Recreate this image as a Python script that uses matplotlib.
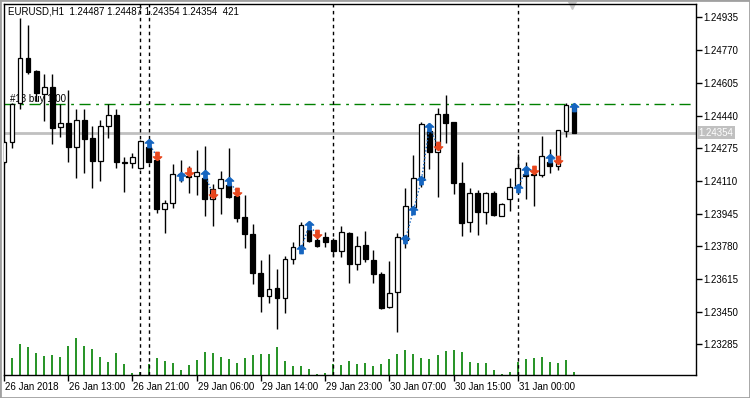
import matplotlib
matplotlib.use('Agg')
import matplotlib.pyplot as plt
import matplotlib.transforms as mtransforms
from matplotlib.patches import Rectangle
from matplotlib.path import Path

plt.rcParams['font.family'] = ['Liberation Sans', 'DejaVu Sans']

# Barras H1 del EURUSD (una por hora, indice 0 = primera visible)
opens = [1.24205, 1.24305, 1.24502, 1.24729, 1.24666, 1.24547, 1.24582, 1.24380,
         1.24401, 1.24283, 1.24417, 1.24325, 1.24212, 1.24387, 1.24441, 1.24202,
         1.24199, 1.24174, 1.24281, 1.24215, 1.23967, 1.23997, 1.24140, 1.24136,
         1.24135, 1.24123, 1.24017, 1.24073, 1.24088, 1.24034, 1.23928, 1.23841,
         1.23647, 1.23531, 1.23568, 1.23518, 1.23714, 1.23778, 1.23862, 1.23812,
         1.23827, 1.23812, 1.23758, 1.23849, 1.23689, 1.23785, 1.23709, 1.23640,
         1.23472, 1.23548, 1.23812, 1.23980, 1.24115, 1.24362, 1.24257, 1.24448,
         1.24406, 1.24098, 1.23901, 1.24047, 1.23952, 1.24047, 1.23934, 1.24017,
         1.24084, 1.24143, 1.24143, 1.24140, 1.24204, 1.24187, 1.24363, 1.24487]
highs = [1.24316, 1.24502, 1.24930, 1.24897, 1.24670, 1.24648, 1.24648, 1.24498,
         1.24569, 1.24473, 1.24473, 1.24387, 1.24417, 1.24498, 1.24473, 1.24229,
         1.24252, 1.24316, 1.24301, 1.24231, 1.24014, 1.24195, 1.24215, 1.24185,
         1.24266, 1.24286, 1.24094, 1.24160, 1.24274, 1.24073, 1.24039, 1.23892,
         1.23711, 1.23741, 1.23665, 1.23733, 1.23800, 1.23901, 1.23901, 1.23828,
         1.23854, 1.23822, 1.23882, 1.23852, 1.23832, 1.23857, 1.23761, 1.23652,
         1.23706, 1.23846, 1.24076, 1.24241, 1.24406, 1.24402, 1.24478, 1.24543,
         1.24407, 1.24204, 1.24073, 1.24064, 1.24053, 1.24059, 1.23997, 1.24126,
         1.24246, 1.24207, 1.24180, 1.24337, 1.24271, 1.24367, 1.24502, 1.24487]
lows = [1.24195, 1.24276, 1.24473, 1.24649, 1.24513, 1.24414, 1.24295, 1.24333,
        1.24204, 1.24126, 1.24148, 1.24073, 1.24109, 1.24325, 1.24174, 1.24056,
        1.24177, 1.24170, 1.24200, 1.23950, 1.23849, 1.23975, 1.24106, 1.24050,
        1.24039, 1.23933, 1.23884, 1.23941, 1.24026, 1.23904, 1.23770, 1.23588,
        1.23450, 1.23495, 1.23363, 1.23445, 1.23689, 1.23771, 1.23803, 1.23778,
        1.23778, 1.23731, 1.23728, 1.23596, 1.23660, 1.23702, 1.23596, 1.23464,
        1.23471, 1.23346, 1.23773, 1.23955, 1.24078, 1.24170, 1.24030, 1.24303,
        1.24042, 1.23833, 1.23854, 1.23837, 1.23891, 1.23933, 1.23933, 1.23960,
        1.24064, 1.24017, 1.23983, 1.24131, 1.24148, 1.24165, 1.24330, 1.24354]
closes = [1.24306, 1.24497, 1.24729, 1.24658, 1.24552, 1.24582, 1.24378, 1.24401,
          1.24283, 1.24417, 1.24320, 1.24212, 1.24387, 1.24441, 1.24207, 1.24204,
          1.24232, 1.24311, 1.24207, 1.23967, 1.23997, 1.24143, 1.24145, 1.24128,
          1.24153, 1.24017, 1.24068, 1.24118, 1.24030, 1.23924, 1.23844, 1.23644,
          1.23531, 1.23563, 1.23521, 1.23714, 1.23778, 1.23887, 1.23807, 1.23783,
          1.23803, 1.23758, 1.23851, 1.23689, 1.23783, 1.23714, 1.23639, 1.23470,
          1.23543, 1.23827, 1.23983, 1.24123, 1.24396, 1.24257, 1.24448, 1.24404,
          1.24098, 1.23899, 1.24047, 1.23955, 1.24047, 1.23938, 1.23993, 1.24081,
          1.24174, 1.24135, 1.24141, 1.24236, 1.24187, 1.24367, 1.24493, 1.24354]
volumes = [2400, 2387, 4352, 3931, 3089, 2714, 2808, 2527, 4072, 5195, 4072, 3650,
           2527, 1825, 3089, 1544, 281, 470, 1498, 2387, 1966, 1685, 702, 1404,
           2106, 3229, 3089, 2527, 2246, 1685, 2387, 2808, 2948, 2948, 3931, 1966,
           1264, 1264, 842, 140, 281, 1544, 1404, 1966, 1544, 1685, 1264, 1544,
           2246, 2948, 3510, 2948, 2387, 2246, 2808, 3370, 3510, 3229, 1825, 1685,
           1685, 702, 140, 421, 1825, 2246, 2387, 2527, 1825, 1685, 2106, 421]

date_pos = [0, 8, 16, 24, 32, 40, 48, 56, 64]
date_labels = ['26 Jan 2018', '26 Jan 13:00', '26 Jan 21:00', '29 Jan 06:00',
               '29 Jan 14:00', '29 Jan 23:00', '30 Jan 07:00', '30 Jan 15:00',
               '31 Jan 00:00']
separators = [17, 18, 41, 64]
price_ticks = [1.23285, 1.23450, 1.23615, 1.23780, 1.23945, 1.24110,
               1.24275, 1.24440, 1.24605, 1.24770, 1.24935]

# Flechas de operaciones
buy_bars = [18, 22, 25, 28, 37, 38, 50, 51, 52, 53, 64, 65, 68, 71]
buy_prices = [1.24303, 1.24136, 1.24145, 1.24111, 1.23766, 1.23887, 1.23815,
              1.23963, 1.24115, 1.24384, 1.24073, 1.24165, 1.24227, 1.24481]
sell_bars = [19, 23, 26, 29, 39, 54, 66, 69]
sell_prices = [1.24237, 1.24153, 1.24044, 1.24056, 1.23841, 1.24288, 1.24165, 1.24215]
trade_chains = [[18, 19], [22, 23], [25, 26], [28, 29], [37, 38, 39],
                [50, 51, 52, 53, 54], [64, 65, 66], [68, 69]]

order_price = 1.24497
order_label = '#13 buy 1.00'
bid = 1.24354
header = 'EURUSD,H1  1.24487 1.24487 1.24354 1.24354  421'

fig = plt.figure(figsize=(7.5, 3.98), dpi=100)
fig.patch.set_facecolor('white')
ax = fig.add_axes([4 / 750, 23 / 398, 692 / 750, 371 / 398])
axv = ax.twinx()
ax.set_zorder(axv.get_zorder() + 1)
ax.patch.set_visible(False)

# Volumenes
axv.vlines(range(len(volumes)), 0, volumes, color='#008000', lw=1.2)
axv.set_ylim(0, 52000)
axv.set_yticks([])
for s in axv.spines.values():
    s.set_visible(False)

# Velas
for i in range(len(opens)):
    o, h, l, c = opens[i], highs[i], lows[i], closes[i]
    ax.vlines(i, l, h, color='black', lw=1, zorder=3)
    fc = 'white' if c >= o else 'black'
    ax.add_patch(Rectangle((i - 0.3, min(o, c)), 0.6, abs(c - o),
                           facecolor=fc, edgecolor='black', lw=0.9, zorder=4))

# Lineas de orden y bid
ax.axhline(order_price, color='#008000', lw=1, ls=(0, (8, 4, 2, 4)), zorder=2)
ax.text(0.8, order_price + 0.00003, order_label, fontsize=7, va='bottom', zorder=1.5)
ax.axhline(bid, color='#c0c0c0', lw=2, zorder=1)

for s in separators:
    ax.axvline(s, color='black', lw=1, ls=(0, (2.5, 2.5)), zorder=2)

# Flechas
up = Path([(0, 1), (-1, 0.1), (-0.4, 0.1), (-0.4, -1), (0.4, -1), (0.4, 0.1), (1, 0.1), (0, 1)])
down = Path([(0, -1), (-1, -0.1), (-0.4, -0.1), (-0.4, 1), (0.4, 1), (0.4, -0.1), (1, -0.1), (0, -1)])
arrow_price = dict(zip(buy_bars, buy_prices))
arrow_price.update(dict(zip(sell_bars, sell_prices)))
for chain in trade_chains:
    ax.plot(chain, [arrow_price[b] for b in chain], color='#1565c0', lw=1,
            ls=(0, (1, 1.5)), zorder=5)
ax.plot(buy_bars, buy_prices, ls='none', marker=up, ms=6, color='#1565c0', zorder=6)
ax.plot(sell_bars, sell_prices, ls='none', marker=down, ms=6, color='#e8471e', zorder=6)

ax.set_xlim(0, 86.2)
ax.set_ylim(1.23131, 1.25003)
ax.set_xticks(date_pos)
ax.set_xticklabels(date_labels, ha='left', fontsize=7)
ax.tick_params(axis='x', direction='out', length=4, pad=1, width=1)
ax.yaxis.tick_right()
ax.set_yticks(price_ticks)
ax.set_yticklabels(['%.5f' % p for p in price_ticks], fontsize=7)
ax.tick_params(axis='y', direction='out', length=4, pad=1, width=1)
for lab in ax.get_xticklabels():
    lab.set_transform(lab.get_transform() + mtransforms.ScaledTranslation(1 / 100, 0, fig.dpi_scale_trans))
for s in ax.spines.values():
    s.set_linewidth(1)

trans = mtransforms.blended_transform_factory(ax.transAxes, ax.transData)
ax.text(1.004, bid, '%.5f' % bid, transform=trans, fontsize=7, color='white',
        va='center', ha='left',
        bbox=dict(boxstyle='square,pad=0.15', facecolor='#c0c0c0', edgecolor='none'))
trans2 = mtransforms.blended_transform_factory(ax.transAxes, ax.transAxes)
ax.plot([0.821], [1.0], marker='v', ms=7, color='#c8c8c8', transform=trans2, clip_on=False)

fig.text(8 / 750, 1 - 11.5 / 398, header, fontsize=7, va='center')
fig.patches.append(Rectangle((0, 0), 1, 1, transform=fig.transFigure, fill=False,
                             edgecolor='#a0a0a0', lw=2))

fig.savefig('out.png', dpi=100)
